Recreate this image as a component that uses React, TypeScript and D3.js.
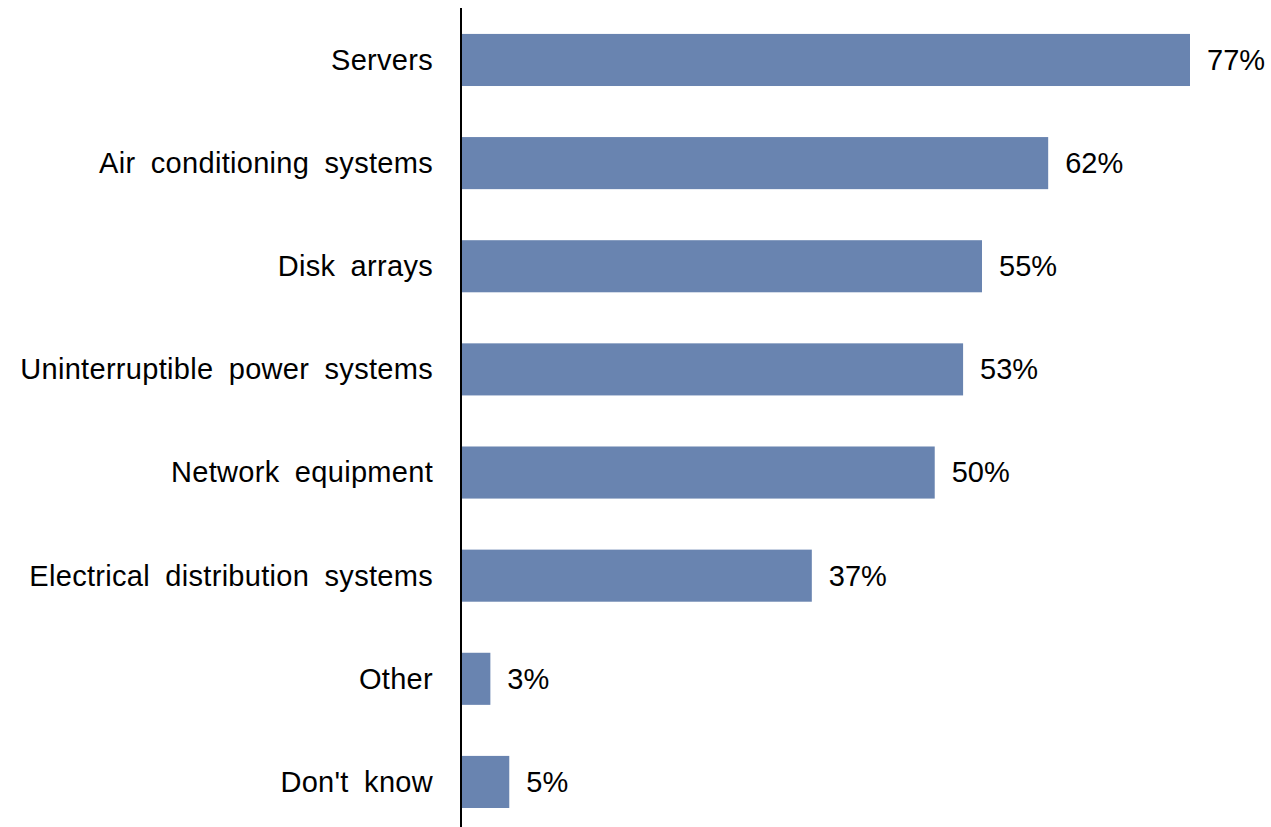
import React from "react";
import * as d3 from "d3";

const categories = [
  "Servers",
  "Air conditioning systems",
  "Disk arrays",
  "Uninterruptible power systems",
  "Network equipment",
  "Electrical distribution systems",
  "Other",
  "Don't know",
];
const values = [77, 62, 55, 53, 50, 37, 3, 5];

const W = 1271;
const H = 827;

export default function App() {
  const x = d3.scaleLinear().domain([0, 77]).range([462, 1190]);
  const y = d3
    .scaleBand<string>()
    .domain(categories)
    .range([8.4, 8.4 + 8 * 103.14])
    .paddingInner(0.495)
    .paddingOuter(0.2475);
  const font = "Arial, 'Liberation Sans', sans-serif";
  return (
    <div style={{ position: "absolute", left: 0, top: 0 }}>
      <svg width={W} height={H} style={{ display: "block", background: "#fff" }}>
        {categories.map((c, i) => {
          const y0 = y(c)!;
          const bw = y.bandwidth();
          const cy = y0 + bw / 2;
          return (
            <g key={c}>
              <rect x={x(0)} y={y0} width={x(values[i]) - x(0)} height={bw} fill="#6984b0" />
              <text
                x={433}
                y={cy}
                dy="0.34em"
                textAnchor="end"
                fontFamily={font}
                fontSize={29}
                wordSpacing={7}
                letterSpacing={0.3}
                fill="#000"
              >
                {c}
              </text>
              <text
                x={x(values[i]) + 17}
                y={cy}
                dy="0.34em"
                fontFamily={font}
                fontSize={29}
                fill="#000"
              >
                {values[i]}%
              </text>
            </g>
          );
        })}
        <line x1={461} x2={461} y1={8} y2={H} stroke="#000" strokeWidth={2} />
      </svg>
    </div>
  );
}
